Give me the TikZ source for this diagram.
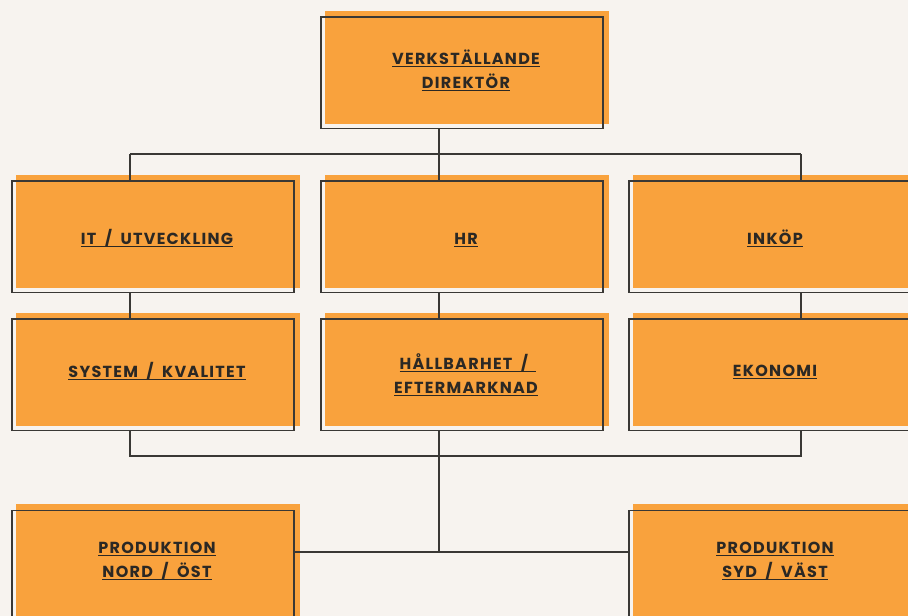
\documentclass[tikz,border=0pt]{standalone}
\usepackage{fontspec}
\setmainfont{Poppins}[LetterSpace=8,WordSpace=1.8]
\usetikzlibrary{calc}
\definecolor{bgc}{HTML}{F7F3EF}
\definecolor{boxorange}{HTML}{F9A23D}
\definecolor{ink}{HTML}{2B2824}
\definecolor{linec}{HTML}{3A3835}
\newcommand\ulx[1]{\setbox0=\hbox{#1}\leavevmode\rlap{\copy0}\rule[-3pt]{\wd0}{1.3pt}}
\pgfdeclarelayer{bg}
\pgfsetlayers{bg,main}
\tikzset{
  orgbox/.style={draw=linec, line width=1.5pt, minimum width=282pt, minimum height=111.5pt, inner sep=0pt, anchor=north west},
  lbl/.style={text=ink, font=\fontsize{16}{18}\selectfont\bfseries, inner sep=0pt, anchor=base},
  conn/.style={draw=linec, line width=1.5pt}
}
\newcommand\orangefill[1]{\begin{pgfonlayer}{bg}\fill[boxorange] ($(#1.south west)+(5,-5.5)$) rectangle ($(#1.north east)+(5,-5.5)$);\end{pgfonlayer}}
\begin{document}
\begin{tikzpicture}[x=1pt,y=-1pt]
\begin{pgfonlayer}{bg}
\fill[bgc] (0,0) rectangle (908,616);
\end{pgfonlayer}
\useasboundingbox (0,0) rectangle (908,616);
% boxes
\node[orgbox] (ceo) at (320,16) {};
\node[orgbox] (it) at (11,180.3) {};
\node[orgbox] (hr) at (320,180.3) {};
\node[orgbox] (ink) at (628,180.3) {};
\node[orgbox] (sys) at (11,318.3) {};
\node[orgbox] (hall) at (320,318.3) {};
\node[orgbox] (eko) at (628,318.3) {};
\node[orgbox] (pno) at (11,509.5) {};
\node[orgbox] (psv) at (628,509.5) {};
\foreach \n in {ceo,it,hr,ink,sys,hall,eko,pno,psv}{\orangefill{\n}}
% labels
\node[lbl] (ceo1) at (466,64) {\ulx{VERKSTÄLLANDE}};
\node[lbl] (ceo2) at (466,88) {\ulx{DIREKTÖR}};
\node[lbl] (itl) at (157,244) {\ulx{IT / UTVECKLING}};
\node[lbl] (hrl) at (466,244) {\ulx{HR}};
\node[lbl] (inkl) at (775,244) {\ulx{INKÖP}};
\node[lbl] (sysl) at (157,377) {\ulx{SYSTEM / KVALITET}};
\node[lbl] (hall1) at (468,369) {\ulx{HÅLLBARHET /\ }};
\node[lbl] (hall2) at (466,393) {\ulx{EFTERMARKNAD}};
\node[lbl] (ekol) at (775,376) {\ulx{EKONOMI}};
\node[lbl] (pno1) at (157,553) {\ulx{PRODUKTION}};
\node[lbl] (pno2) at (157,577) {\ulx{NORD / ÖST}};
\node[lbl] (psv1) at (775,553) {\ulx{PRODUKTION}};
\node[lbl] (psv2) at (775,577) {\ulx{SYD / VÄST}};
% connector coordinates
\coordinate (ba) at (130,154);
\coordinate (bb) at (439,154);
\coordinate (bc) at (801,154);
\coordinate (da) at (130,456);
\coordinate (db) at (439,456);
\coordinate (dc) at (801,456);
\coordinate (pj) at (439,552);
% connectors
\draw[conn] (ceo.south -| bb) -- (bb);
\draw[conn] (ba) -- (bc);
\draw[conn] (ba) -- (it.north -| ba);
\draw[conn] (bb) -- (hr.north -| bb);
\draw[conn] (bc) -- (ink.north -| bc);
\draw[conn] (it.south -| ba) -- (sys.north -| ba);
\draw[conn] (hr.south -| bb) -- (hall.north -| bb);
\draw[conn] (ink.south -| bc) -- (eko.north -| bc);
\draw[conn] (sys.south -| da) -- (da) -- (dc) -- (eko.south -| dc);
\draw[conn] (hall.south -| db) -- (pj);
\draw[conn] (pno.east |- pj) -- (psv.west |- pj);
\end{tikzpicture}
\end{document}
